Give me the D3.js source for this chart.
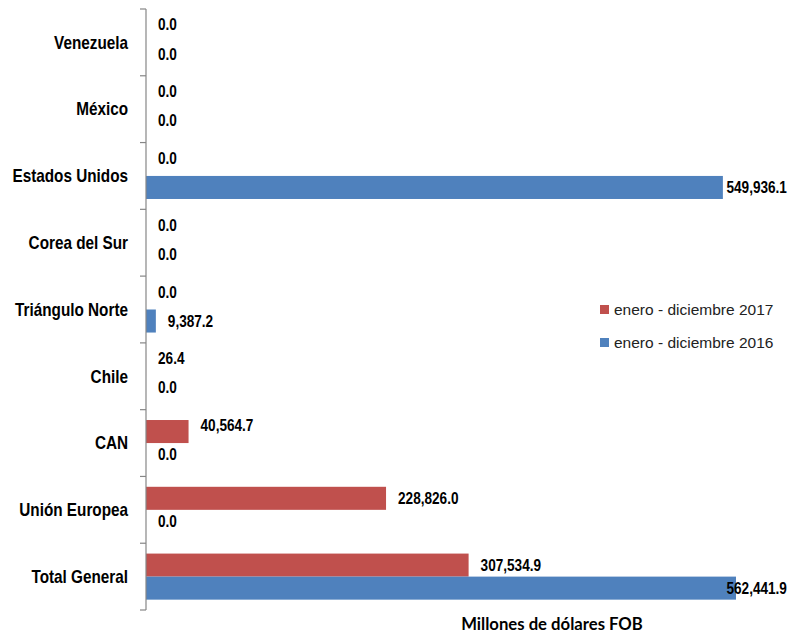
<!DOCTYPE html>
<html>
<head>
<meta charset="utf-8">
<script src="https://cdn.jsdelivr.net/npm/d3@7"></script>
<style>
  body { margin: 0; background: #fff; }
  svg { display: block; }
</style>
</head>
<body>
<div id="chart"></div>
<script>
// categories, top to bottom as drawn
let categories = ["Venezuela", "México", "Estados Unidos", "Corea del Sur", "Triángulo Norte",
  "Chile", "CAN", "Unión Europea", "Total General"];
let values2017 = [0, 0, 0, 0, 0, 26.4, 40564.7, 228826.0, 307534.9];
let values2016 = [0, 0, 549936.1, 0, 9387.2, 0, 0, 0, 562441.9];
let seriesNames = ["enero - diciembre 2017", "enero - diciembre 2016"];
let colors = ["#C0504D", "#4F81BD"];

let width = 788, height = 636;
let plotLeft = 146, plotTop = 9, plotBottom = 610;
// no narrow font installed, so squeeze a normal one
let narrow = 0.85;
let boldFont = "'Liberation Sans', Arial, sans-serif";

let svg = d3.select("#chart").append("svg")
  .attr("width", width)
  .attr("height", height);

let x = d3.scaleLinear()
  .domain([0, 600000])
  .range([plotLeft, plotLeft + 629.4]);

let y = d3.scaleBand()
  .domain(categories)
  .range([plotTop, plotBottom])
  .paddingInner(0.31)
  .paddingOuter(0.155);

let sub = d3.scaleBand()
  .domain([0, 1])
  .range([0, y.bandwidth()]);

let rows = categories.map((c, i) => ({cat: c, vals: [values2017[i], values2016[i]]}));

// bars
let groups = svg.selectAll("g.row")
  .data(rows)
  .enter().append("g")
  .attr("class", "row")
  .attr("transform", d => "translate(0," + y(d.cat) + ")");

groups.selectAll("rect")
  .data(d => d.vals.map((v, k) => ({v: v, k: k})))
  .enter().append("rect")
  .attr("x", x(0))
  .attr("y", d => sub(d.k))
  .attr("height", sub.bandwidth())
  .attr("width", d => x(d.v) - x(0))
  .attr("fill", d => colors[d.k]);

// value labels
let fmt = d3.format(",.1f");
groups.selectAll("g.val")
  .data(d => d.vals.map((v, k) => ({v: v, k: k})))
  .enter().append("g")
  .attr("class", "val")
  .each(function(d) {
    let g = d3.select(this);
    let t = g.append("text")
      .attr("dy", "0.35em")
      .style("font-family", boldFont)
      .style("font-weight", "bold")
      .style("font-size", "16px")
      .attr("fill", "#000")
      .text(fmt(d.v));
    let w = t.node().getComputedTextLength() * narrow;
    let lx = x(d.v) + 12;
    // keep the label inside the picture
    if (lx + w > width - 1) lx = width - 1 - w;
    let ly = sub(d.k) + sub.bandwidth() / 2;
    // short red bars have their label lifted a little
    if (d.k == 0 && x(d.v) - x(0) < 150) ly -= 6;
    g.attr("transform", "translate(" + lx + "," + ly + ") scale(" + narrow + ",1)");
  });

// axis line with category ticks
let axis = svg.append("g");
axis.append("line")
  .attr("x1", plotLeft).attr("x2", plotLeft)
  .attr("y1", plotTop).attr("y2", plotBottom)
  .attr("stroke", "#868686")
  .attr("stroke-width", 1.2);

let tickYs = categories.map(c => y(c) - y.step() * y.paddingInner() / 2);
tickYs.push(plotBottom);
axis.selectAll("line.tick")
  .data(tickYs)
  .enter().append("line")
  .attr("class", "tick")
  .attr("x1", plotLeft - 6).attr("x2", plotLeft)
  .attr("y1", d => d).attr("y2", d => d)
  .attr("stroke", "#868686")
  .attr("stroke-width", 1.2);

// category labels
svg.selectAll("g.cat")
  .data(categories)
  .enter().append("g")
  .attr("class", "cat")
  .attr("transform", d => "translate(128," + (y(d) + y.bandwidth() / 2) + ") scale(" + narrow + ",1)")
  .append("text")
  .attr("dy", "0.35em")
  .attr("text-anchor", "end")
  .style("font-family", boldFont)
  .style("font-weight", "bold")
  .style("font-size", "18px")
  .text(d => d);

// legend
let legend = svg.selectAll("g.legend")
  .data(seriesNames)
  .enter().append("g")
  .attr("class", "legend")
  .attr("transform", (d, i) => "translate(600," + (310 + i * 33) + ")");

legend.append("rect")
  .attr("x", 0).attr("y", -5)
  .attr("width", 9).attr("height", 9)
  .attr("fill", (d, i) => colors[i]);

legend.append("text")
  .attr("x", 14)
  .attr("y", 0)
  .attr("dy", "0.35em")
  .style("font-family", "'Liberation Sans', Arial, sans-serif")
  .style("font-size", "15.5px")
  .attr("fill", "#222")
  .text(d => d);

// axis title
svg.append("text")
  .attr("x", 552)
  .attr("y", 630)
  .attr("text-anchor", "middle")
  .style("font-family", "Lato, 'Open Sans', sans-serif")
  .style("font-weight", "bold")
  .style("font-size", "16.7px")
  .text("Millones de dólares FOB");
</script>
</body>
</html>
